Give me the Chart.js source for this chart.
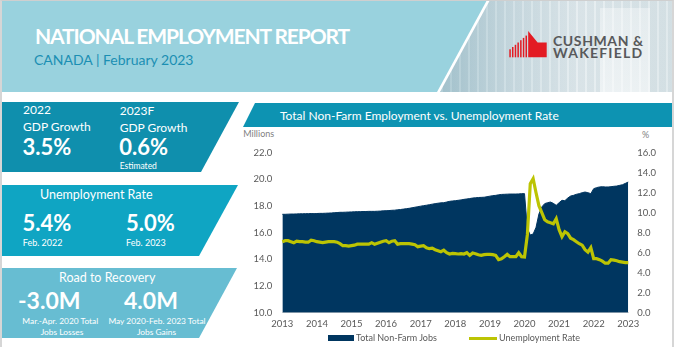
<!DOCTYPE html>
<html>
<head>
<meta charset="utf-8">
<script src="https://cdn.jsdelivr.net/npm/chart.js@4.4.1/dist/chart.umd.min.js"></script>
<style>
  html, body { margin: 0; padding: 0; background: #ffffff; }
  body { width: 674px; height: 347px; position: relative; overflow: hidden; font-family: Lato, "Open Sans", sans-serif; }
  .abs { position: absolute; white-space: nowrap; line-height: 1.2; }
  .frame { position: absolute; left: 0; top: 0; width: 674px; height: 347px; box-sizing: border-box;
           border-top: 1px solid #cfcfcf; border-left: 2px solid #d6d6d6; border-right: 2px solid #d6d6d6; pointer-events: none; }
  .band { position: absolute; left: 0; top: 0; width: 674px; height: 92px; background: #99d2de; }
  .photo { position: absolute; left: 0; top: 0; width: 674px; height: 92px;
           clip-path: polygon(488px 0, 674px 0, 674px 92px, 438px 92px);
           background:
             repeating-linear-gradient(90deg, rgba(255,255,255,0.10) 0 2px, rgba(120,150,165,0.10) 2px 9px),
             linear-gradient(90deg, #a7c6d0 0%, #a9c7d1 66%, #cddde3 76%, #e4ecef 86%, #dde7ea 100%); }
  .photo2 { position: absolute; left: 0; top: 0; width: 674px; height: 92px;
            clip-path: polygon(600px 8px, 650px 8px, 650px 92px, 600px 92px);
            background: linear-gradient(180deg, rgba(255,255,255,0.35), rgba(255,255,255,0.55)); }
  .edge { position: absolute; left: 0; top: 0; width: 674px; height: 92px; background: #ffffff;
          clip-path: polygon(487px 0, 490px 0, 440px 92px, 437px 92px); }
  .panel { position: absolute; left: 2px; }
  .w { color: #ffffff; }
  .titlebar { position: absolute; left: 243px; top: 103px; width: 431px; height: 24px; background: #0d93b2;
              clip-path: polygon(12px 0, 100% 0, 100% 100%, 0 100%); }
  canvas { position: absolute; left: 232px; top: 128px; }
</style>
</head>
<body>
<!-- header -->
<div class="band"></div>
<div class="photo"></div>
<div class="photo2"></div>
<div class="edge"></div>
<div class="abs w" style="left:35px; top:22.6px; font-size:21px; font-weight:700; letter-spacing:-1.1px;">NATIONAL EMPLOYMENT REPORT</div>
<div class="abs" style="left:34px; top:52.2px; font-size:14px; color:#1b8fb3;">CANADA | February 2023</div>

<!-- company mark -->
<svg class="abs" style="left:505px; top:28px;" width="45" height="32" viewBox="505 28 45 32">
  <g fill="#e31b23">
    <rect x="509.3" y="49.3" width="1.5" height="8"/>
    <rect x="512" y="47" width="1.5" height="10.3"/>
    <rect x="514.7" y="44.8" width="1.5" height="12.5"/>
    <rect x="517.4" y="42.5" width="1.5" height="14.8"/>
    <rect x="520.1" y="40.2" width="1.5" height="17.1"/>
    <rect x="522.8" y="37.9" width="1.5" height="19.4"/>
    <rect x="525.5" y="35.6" width="1.5" height="21.7"/>
    <polygon points="528.2,31 537.6,42.6 546.7,42.6 546.7,57.3 528.2,57.3"/>
  </g>
</svg>
<div class="abs" style="left:553px; top:32.9px; font-size:14px; font-weight:700; color:#58595b; letter-spacing:0.6px;">CUSHMAN &amp;</div>
<div class="abs" style="left:553px; top:45.2px; font-size:14px; font-weight:700; color:#58595b; letter-spacing:1.2px;">WAKEFIELD</div>

<!-- key figures -->
<div class="panel" style="top:102px; width:237px; height:70px; background:#0f8fad; clip-path: polygon(0 0, 237px 0, 199px 70px, 0 70px);"></div>
<div class="panel" style="top:185px; width:236px; height:71px; background:#0fa5c3; clip-path: polygon(0 0, 236px 0, 197px 71px, 0 71px);"></div>
<div class="panel" style="top:268px; width:235px; height:70px; background:#67bdd2; clip-path: polygon(0 0, 235px 0, 197px 70px, 0 70px);"></div>

<div class="abs w" style="left:23px; top:103.3px; font-size:12px;">2022</div>
<div class="abs w" style="left:23px; top:120px; font-size:12px;">GDP Growth</div>
<div class="abs w" style="left:22.5px; top:134.2px; font-size:22px; font-weight:700;">3.5%</div>
<div class="abs w" style="left:119.7px; top:103.5px; font-size:12px;">2023F</div>
<div class="abs w" style="left:119.7px; top:120.5px; font-size:12px;">GDP Growth</div>
<div class="abs w" style="left:119.3px; top:134.2px; font-size:22px; font-weight:700;">0.6%</div>
<div class="abs w" style="left:119.7px; top:161.2px; font-size:8.5px;">Estimated</div>

<div class="abs w" style="left:40px; top:186.8px; font-size:12.5px;">Unemployment Rate</div>
<div class="abs w" style="left:22.5px; top:209.5px; font-size:22px; font-weight:700;">5.4%</div>
<div class="abs w" style="left:126px; top:209.5px; font-size:22px; font-weight:700;">5.0%</div>
<div class="abs w" style="left:22.7px; top:238.2px; font-size:9px;">Feb. 2022</div>
<div class="abs w" style="left:126px; top:238.2px; font-size:9px;">Feb. 2023</div>

<div class="abs w" style="left:59px; top:269.9px; font-size:12.5px;">Road to Recovery</div>
<div class="abs w" style="left:18px; top:286.8px; font-size:23px; font-weight:700;">-3.0M</div>
<div class="abs w" style="left:124px; top:286.8px; font-size:23px; font-weight:700;">4.0M</div>
<div class="abs w" style="left:60.3px; top:315.6px; font-size:8.4px; transform:translateX(-50%);">Mar.-Apr. 2020 Total</div>
<div class="abs w" style="left:62px; top:327px; font-size:8.4px; transform:translateX(-50%);">Jobs Losses</div>
<div class="abs w" style="left:157px; top:315.6px; font-size:8.4px; transform:translateX(-50%);">May 2020-Feb. 2023 Total</div>
<div class="abs w" style="left:156.5px; top:327px; font-size:8.4px; transform:translateX(-50%);">Jobs Gains</div>

<!-- chart -->
<div class="titlebar"></div>
<div class="abs w" style="left:280px; top:109.2px; font-size:12px;">Total Non-Farm Employment vs. Unemployment Rate</div>
<div class="abs" style="left:243.3px; top:129px; font-size:9px; color:#7f7f7f;">Millions</div>
<div class="abs" style="left:642px; top:129.5px; font-size:9px; color:#7f7f7f;">%</div>

<canvas id="chart" width="442" height="219"></canvas>

<div class="abs" style="left:328.3px; top:335px; width:26px; height:6px; background:#003660;"></div>
<div class="abs" style="left:356px; top:332.6px; font-size:9px; color:#595959;">Total Non-Farm Jobs</div>
<div class="abs" style="left:469.3px; top:336.8px; width:27.4px; height:3px; background:#bcc403;"></div>
<div class="abs" style="left:499px; top:332.6px; font-size:9px; color:#595959;">Unemployment Rate</div>

<div class="frame"></div>

<script>
// Monthly series, February 2013 through February 2023
const firstYear = 2013;
const firstMonth = 2;
const monthCount = 121;

const yearTicks = ['2013', '2014', '2015', '2016', '2017', '2018', '2019', '2020', '2021', '2022', '2023'];

// Total non-farm jobs, millions
const nonFarmJobs = [
  17.38, 17.38, 17.39, 17.40, 17.40, 17.41, 17.42, 17.42, 17.43, 17.43,
  17.44, 17.43, 17.44, 17.45, 17.45, 17.46, 17.47, 17.48, 17.50, 17.51,
  17.53, 17.53, 17.54, 17.55, 17.56, 17.57, 17.58, 17.58, 17.59, 17.59,
  17.60, 17.60, 17.60, 17.61, 17.62, 17.64, 17.65, 17.66, 17.68, 17.69,
  17.72, 17.74, 17.77, 17.80, 17.83, 17.87, 17.91, 17.95, 17.99, 18.03,
  18.06, 18.10, 18.14, 18.18, 18.21, 18.24, 18.25, 18.30, 18.35, 18.38,
  18.40, 18.43, 18.46, 18.50, 18.53, 18.56, 18.60, 18.62, 18.64, 18.65,
  18.66, 18.70, 18.74, 18.78, 18.80, 18.84, 18.87, 18.88, 18.89, 18.90,
  18.90, 18.90, 18.91, 18.93, 18.93, 16.30, 15.83, 15.90, 16.40, 17.40,
  17.93, 18.18, 18.25, 18.30, 18.20, 18.05, 18.25, 18.43, 18.40, 18.60,
  18.75, 18.80, 18.88, 18.93, 19.00, 19.05, 19.00, 18.93, 19.30, 19.38,
  19.43, 19.45, 19.43, 19.43, 19.45, 19.48, 19.50, 19.55, 19.60, 19.70,
  19.80
];

// Unemployment rate, %
const unemploymentRate = [
  7.10, 7.20, 7.20, 7.10, 7.00, 7.15, 7.10, 7.10, 7.05, 7.05,
  7.25, 7.20, 7.10, 7.05, 7.00, 7.05, 7.10, 7.10, 7.10, 7.05,
  6.90, 6.70, 6.70, 6.65, 6.70, 6.75, 6.85, 6.85, 6.85, 6.85,
  6.85, 7.00, 6.85, 6.95, 7.05, 7.15, 7.20, 7.00, 7.15, 7.20,
  6.85, 6.90, 6.90, 6.90, 6.90, 6.85, 6.80, 6.60, 6.65, 6.70,
  6.50, 6.40, 6.45, 6.30, 6.20, 6.10, 6.25, 6.00, 5.87, 5.93,
  5.90, 5.87, 5.90, 5.87, 6.00, 5.73, 5.97, 5.90, 5.80, 5.73,
  5.80, 5.83, 5.83, 5.80, 5.73, 5.30, 5.40, 5.60, 5.83, 5.60,
  5.60, 5.60, 6.00, 5.60, 5.57, 7.80, 12.90, 13.40, 12.00, 10.70,
  10.00, 9.30, 9.10, 9.00, 8.90, 9.40, 8.30, 7.60, 8.10, 7.90,
  7.45, 7.30, 7.10, 6.90, 6.75, 6.30, 6.05, 6.50, 5.40, 5.40,
  5.30, 5.15, 4.95, 4.95, 5.30, 5.25, 5.20, 5.10, 5.05, 5.00,
  5.00
];

const months = [];
for (let i = 0; i < monthCount; i++) {
  const m = firstMonth - 1 + i;
  const y = firstYear + Math.floor(m / 12);
  months.push(y + '-' + String((m % 12) + 1).padStart(2, '0'));
}

const tickFont = { family: 'Lato', size: 9.5 };
const tickColor = '#595959';

new Chart(document.getElementById('chart'), {
  type: 'line',
  data: {
    labels: months,
    datasets: [
      {
        label: 'Unemployment Rate',
        data: unemploymentRate,
        yAxisID: 'yRate',
        borderColor: '#bcc403',
        borderWidth: 3.2,
        pointRadius: 0,
        fill: false,
        tension: 0,
        order: 0
      },
      {
        label: 'Total Non-Farm Jobs',
        data: nonFarmJobs,
        yAxisID: 'yJobs',
        borderColor: '#003660',
        backgroundColor: '#003660',
        borderWidth: 1,
        pointRadius: 0,
        fill: 'start',
        tension: 0,
        order: 1
      }
    ]
  },
  options: {
    responsive: false,
    animation: false,
    layout: { padding: { top: 24.7, left: 0, right: 0, bottom: 0 } },
    plugins: { legend: { display: false }, tooltip: { enabled: false } },
    scales: {
      x: {
        type: 'category',
        offset: false,
        grid: { display: false, drawTicks: false },
        border: { display: true, color: '#d9d9d9', width: 1 },
        ticks: {
          autoSkip: false,
          maxRotation: 0,
          minRotation: 0,
          padding: 6,
          font: tickFont,
          color: tickColor,
          callback: (value, index) => (index % 12 === 0 ? yearTicks[index / 12] : '')
        },
        afterFit: (scale) => { scale.height = 34.3; }
      },
      yJobs: {
        position: 'left',
        min: 10,
        max: 22,
        grid: { display: false, drawTicks: false },
        border: { display: false },
        ticks: {
          stepSize: 2,
          padding: 10,
          font: tickFont,
          color: tickColor,
          callback: (v) => v.toFixed(1)
        },
        afterFit: (scale) => { scale.width = 50.3; }
      },
      yRate: {
        position: 'right',
        min: 0,
        max: 16,
        grid: { display: false, drawTicks: false },
        border: { display: false },
        ticks: {
          stepSize: 2,
          padding: 9,
          font: tickFont,
          color: tickColor,
          callback: (v) => v.toFixed(1)
        },
        afterFit: (scale) => { scale.width = 45.7; }
      }
    }
  }
});
</script>
</body>
</html>
